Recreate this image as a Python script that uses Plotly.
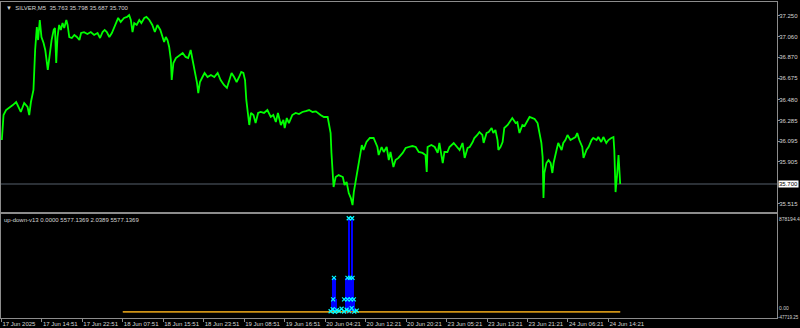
import plotly.graph_objects as go

# ---------------- data ----------------
bar = [
    2, 6, 12, 20, 28, 36, 43, 47, 55, 63,
    67, 71, 77, 79, 81, 85, 88, 92, 96, 101,
    105, 111, 116, 120, 125, 128, 131, 134, 138, 142,
    146, 150, 155, 158, 162, 168, 174, 180, 186, 190,
    197, 205, 213, 221, 229, 235, 241, 246, 251, 257,
    263, 269, 273, 278, 284, 292, 299, 304, 308, 312,
    316, 322, 328, 333, 340, 345, 352, 359, 365, 371,
    378, 383, 387, 391, 395, 399, 403, 405, 409, 415,
    423, 431, 438, 444, 450, 455, 460, 465, 468, 472,
    478, 483, 490, 498, 506, 514, 521, 529, 536, 541,
    547, 553, 559, 565, 570, 575, 579, 582, 586, 589,
    593, 599, 604, 610, 616, 624, 632, 640, 646, 652,
    657, 664, 670, 673, 678, 683, 691, 699, 707, 715,
    723, 731, 739,
    747, 758, 766, 775, 777, 782, 784, 787, 789, 794,
    801, 811, 815, 820, 825, 830, 834, 837, 841, 846,
    851, 856, 860, 867, 875, 884, 893, 896, 903, 908,
    915, 920, 924, 931, 936, 943, 953, 960, 967, 976,
    984, 991, 1000, 1007, 1010, 1012, 1021, 1029, 1036, 1040,
    1048, 1052, 1059, 1064, 1074, 1081, 1088, 1095, 1100, 1107,
    1112, 1119, 1123, 1130, 1135, 1142, 1145, 1152, 1157, 1164,
    1168, 1173, 1178, 1180, 1185, 1190, 1194, 1202, 1206, 1213,
    1221, 1225, 1230, 1237, 1242, 1249, 1254, 1261, 1266, 1273,
    1277, 1282, 1285, 1287, 1289, 1294, 1299, 1304, 1308, 1311,
    1318, 1322, 1330, 1334, 1339, 1344, 1351, 1358, 1363, 1367,
    1372, 1379, 1382, 1389, 1394, 1401, 1405, 1413, 1417, 1424,
    1429, 1436, 1441, 1448, 1453, 1455, 1458, 1462, 1465, 1469,
]

price = [
    36.105, 36.336, 36.382, 36.401, 36.428, 36.456, 36.401, 36.364, 36.447, 36.410,
    36.336, 36.456, 36.567, 36.779, 36.936, 37.148, 37.028, 37.213, 37.056, 37.001,
    36.936, 36.752, 36.936, 37.028, 37.121, 37.139, 36.816, 37.056, 37.167, 37.121,
    37.185, 37.139, 37.213, 37.167, 37.056, 37.047, 37.075, 37.056, 37.028, 37.093,
    37.100, 37.084, 37.102, 37.075, 37.093, 37.047, 37.102, 37.121, 37.102, 37.056,
    37.093, 37.148, 37.195, 37.232, 37.195, 37.232, 37.241, 37.259, 37.213, 37.102,
    37.185, 37.167, 37.213, 37.185, 37.232, 37.241, 37.213, 37.167, 37.102, 37.167,
    37.121, 37.056, 37.010, 37.056, 37.028, 36.964, 36.844, 36.659, 36.816, 36.862,
    36.890, 36.909, 36.872, 36.862, 36.936, 36.844, 36.724, 36.632, 36.539, 36.641,
    36.687, 36.724, 36.687, 36.705, 36.687, 36.724, 36.659, 36.613, 36.586, 36.659,
    36.724, 36.687, 36.641, 36.687, 36.733, 36.724, 36.659, 36.475, 36.355, 36.244,
    36.355, 36.336, 36.262, 36.355, 36.364, 36.355, 36.382, 36.318, 36.336, 36.272,
    36.355, 36.244, 36.290, 36.216, 36.308, 36.262, 36.336, 36.355, 36.345, 36.364,
    36.372, 36.382, 36.364,
    36.370, 36.336, 36.318, 36.318, 36.262, 36.170, 35.986, 35.764, 35.672, 35.764,
    35.782, 35.764, 35.690, 35.718, 35.616, 35.570, 35.505, 35.625, 35.718, 35.801,
    35.921, 36.059, 36.013, 36.087, 36.124, 36.124, 36.041, 35.967, 36.041, 35.995,
    36.041, 35.921, 35.995, 35.856, 35.921, 35.940, 35.986, 36.032, 36.041, 36.050,
    36.041, 35.995, 35.986, 35.967, 35.810, 36.041, 36.059, 36.041, 35.986, 36.078,
    35.893, 35.995, 35.995, 36.041, 36.078, 36.041, 36.013, 36.078, 35.940, 36.032,
    36.041, 36.087, 36.124, 36.152, 36.179, 36.152, 36.078, 36.170, 36.179, 36.216,
    36.170, 36.198, 36.105, 36.013, 36.041, 36.087, 36.216, 36.244, 36.272, 36.308,
    36.262, 36.270, 36.170, 36.244, 36.235, 36.290, 36.318, 36.308, 36.300, 36.262,
    36.170, 36.078, 35.949, 35.570, 35.801, 35.893, 35.921, 35.893, 35.801, 35.893,
    36.013, 36.078, 36.013, 36.078, 36.105, 36.152, 36.105, 36.124, 36.133, 36.170,
    36.105, 36.041, 35.940, 36.013, 36.041, 36.105, 36.124, 36.105, 36.133, 36.087,
    36.133, 36.078, 36.105, 36.124, 36.133, 36.013, 35.625, 35.801, 35.967, 35.700,
]

bid_price = 35.700
price_ticks = [35.515, 35.905, 36.095, 36.285, 36.480, 36.675, 36.870, 37.060, 37.250]

time_labels = [
    "17 Jun 2025", "17 Jun 14:51", "17 Jun 22:51", "18 Jun 07:51",
    "18 Jun 15:51", "18 Jun 23:51", "19 Jun 08:51", "19 Jun 16:51",
    "20 Jun 04:21", "20 Jun 12:21", "20 Jun 20:21", "23 Jun 05:21",
    "23 Jun 13:21", "23 Jun 21:21", "24 Jun 06:21", "24 Jun 14:21",
]
bars_per_label = 96

# indicator pane (up-down-v13)
hist_bar = [786, 788, 792, 794, 817, 819, 821, 823, 825, 827, 829, 831, 833, 835, 837]
hist_val = [118000, 310000, 310000, 118000, 118000, 310000, 310000, 310000, 840000,
            310000, 310000, 310000, 840000, 310000, 118000]

sig_bar = [825, 833, 790, 822, 828, 834, 788, 814, 822, 830, 837,
           782, 787, 792, 797, 802, 808, 814, 820, 826, 832, 838, 844]
sig_val = [840000, 840000, 310000, 310000, 310000, 310000, 118000, 118000, 118000, 118000, 118000,
           12000, 30000, 8000, 22000, 15000, 35000, 10000, 26000, 14000, 40000, 9000, 18000]

gold_bar = [289, 400, 520, 640, 760, 860, 980, 1100, 1220, 1340, 1469]
gold_val = [9000, 9500, 8500, 9000, 8000, 9500, 9000, 8500, 9000, 8500, 9000]
orange_bar = [289, 470, 620, 790, 850, 1010, 1180, 1300, 1469]
orange_val = [6000, 5500, 6500, 5000, 6000, 5500, 6000, 5500, 6000]
red_bar = [812, 820, 830, 838]
red_val = [1500, 1000, 1500, 1000]

ind_min = -47719.25
ind_max = 878194.4

# ---------------- figure ----------------
BORDER = "#8c8c8c"
TXT = "#d4d4d4"
FONT = "Liberation Sans"

fig = go.Figure()

fig.add_trace(go.Scatter(x=bar, y=price, mode="lines",
                         line=dict(color="#00ff00", width=1.8),
                         xaxis="x", yaxis="y", hoverinfo="skip"))

fig.add_trace(go.Scatter(x=gold_bar, y=gold_val, mode="lines",
                         line=dict(color="#a88420", width=1.5),
                         xaxis="x2", yaxis="y2"))
fig.add_trace(go.Scatter(x=orange_bar, y=orange_val, mode="lines",
                         line=dict(color="#f0a010", width=1),
                         xaxis="x2", yaxis="y2"))
fig.add_trace(go.Bar(x=hist_bar, y=hist_val, width=1.6,
                     marker=dict(color="#0000ff", line=dict(width=0)),
                     xaxis="x2", yaxis="y2"))
fig.add_trace(go.Scatter(x=red_bar, y=red_val, mode="lines",
                         line=dict(color="#9a1010", width=1.5),
                         xaxis="x2", yaxis="y2"))
fig.add_trace(go.Scatter(x=sig_bar, y=sig_val, mode="markers",
                         marker=dict(symbol="x-thin", size=4, color="#00ffff",
                                     line=dict(color="#00ffff", width=1.2)),
                         xaxis="x2", yaxis="y2"))

x_range = [0, 1841]
tickvals_x = [1 + bars_per_label * k for k in range(len(time_labels))]

fig.update_layout(
    width=800, height=328,
    margin=dict(l=1, r=23, t=2, b=10, autoexpand=False),
    paper_bgcolor="#000000", plot_bgcolor="#000000",
    showlegend=False, bargap=0,
    font=dict(family=FONT, size=6, color=TXT),
    xaxis=dict(domain=[0, 1], anchor="y", range=x_range, showticklabels=False,
               ticks="", showgrid=False, zeroline=False,
               showline=True, mirror=True, linecolor=BORDER, linewidth=1),
    yaxis=dict(domain=[0.3354, 1], anchor="x", side="right",
               range=[35.441, 37.379], tickmode="array",
               tickvals=price_ticks, ticktext=[f"{v:.3f}" for v in price_ticks],
               ticks="outside", ticklen=2, tickcolor=BORDER,
               ticklabelstandoff=-2,
               tickfont=dict(family=FONT, size=6, color=TXT),
               showgrid=False, zeroline=False, automargin=False,
               showline=True, mirror=True, linecolor=BORDER, linewidth=1),
    xaxis2=dict(domain=[0, 1], anchor="y2", range=x_range, tickmode="array",
                tickvals=tickvals_x, ticktext=time_labels, tickangle=0,
                ticks="outside", ticklen=3, tickcolor=BORDER,
                ticklabelposition="outside right", automargin=False,
                tickfont=dict(family=FONT, size=6, color=TXT),
                showgrid=False, zeroline=False,
                showline=True, mirror=True, linecolor=BORDER, linewidth=1),
    yaxis2=dict(domain=[0, 0.3291], anchor="x2", side="right",
                range=[ind_min, ind_max], showticklabels=False, ticks="",
                showgrid=False, zeroline=False, automargin=False,
                showline=True, mirror=True, linecolor=BORDER, linewidth=1),
)

# bid line
fig.add_shape(type="line", xref="paper", x0=0, x1=1, yref="y", y0=bid_price, y1=bid_price,
              line=dict(color="#3a4048", width=1.5), layer="below")

# texts
fig.add_annotation(xref="paper", yref="paper", x=0.004, y=1, xanchor="left", yanchor="top",
                   yshift=-1, showarrow=False,
                   text="\u25bc  SILVER,M5  35.763 35.798 35.687 35.700",
                   font=dict(family=FONT, size=6, color=TXT))
fig.add_annotation(xref="paper", yref="paper", x=0.001, y=0.3291, xanchor="left", yanchor="top",
                   yshift=-1, showarrow=False,
                   text="up-down-v13 0.0000 5577.1369 2.0389 5577.1369",
                   font=dict(family=FONT, size=6, color=TXT))
fig.add_annotation(xref="paper", yref="y", x=1, y=bid_price, xanchor="left", yanchor="middle",
                   xshift=1, showarrow=False, text=f"{bid_price:.3f}", bgcolor="#ffffff",
                   borderpad=0, font=dict(family=FONT, size=6, color="#000000"))
fig.add_annotation(xref="paper", yref="y2", x=1, y=ind_max, xanchor="left", yanchor="top",
                   xshift=0, showarrow=False, text=f"{ind_max:.1f}",
                   font=dict(family=FONT, size=5, color=TXT))
fig.add_annotation(xref="paper", yref="y2", x=1, y=0, xanchor="left", yanchor="bottom",
                   xshift=0, yshift=0, showarrow=False, text="0.00",
                   font=dict(family=FONT, size=5, color=TXT))
fig.add_annotation(xref="paper", yref="y2", x=1, y=ind_min, xanchor="left", yanchor="middle",
                   xshift=-1, yshift=1, showarrow=False, text=f"{ind_min:.2f}",
                   font=dict(family=FONT, size=4.5, color=TXT))

fig.write_html("out.html")
